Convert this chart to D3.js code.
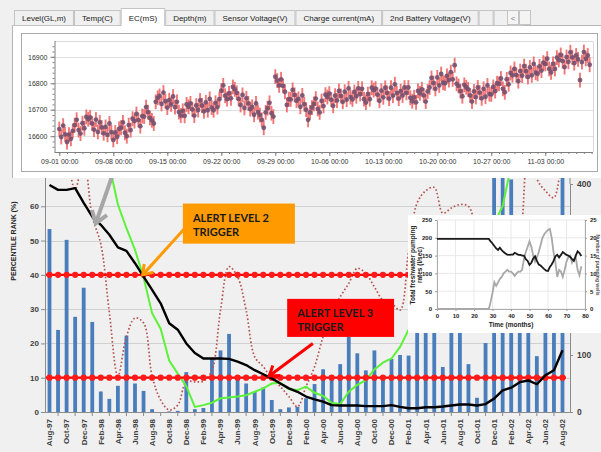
<!DOCTYPE html>
<html>
<head>
<meta charset="utf-8">
<script src="https://cdn.jsdelivr.net/npm/d3@7"></script>
<style>
  body { margin: 0; background: #f0f0f0; }
  svg { display: block; }
</style>
</head>
<body>
<div id="chart"></div>
<script>
// ---------- top panel: logger EC series ----------
var tabNames = ["Level(GL,m)", "Temp(C)", "EC(mS)", "Depth(m)", "Sensor Voltage(V)",
                "Charge current(mA)", "2nd Battery Voltage(V)", "", "", ""];
var activeTab = "EC(mS)";

var ecStart = "2014-09-01 00:00";
var ecStepHours = 6;
var ecError = 28;
var ecTicks = [16600, 16700, 16800, 16900];
var ecValues = [
  // Sep
  16627,16597,16640,16607, 16578,16606,16590,16620, 16642,16662,16623,16610, 16649,16630,16673,16664,
  16671,16648,16625,16663, 16616,16652,16633,16611, 16635,16605,16648,16615, 16586,16614,16598,16628,
  16632,16652,16613,16600, 16642,16623,16666,16657, 16684,16661,16638,16676, 16674,16710,16691,16669,
  16660,16648,16730,16745, 16752,16722,16765,16732, 16708,16736,16720,16750, 16710,16730,16691,16678,
  16696,16677,16720,16711, 16724,16701,16678,16716, 16699,16735,16716,16694, 16728,16698,16741,16708,
  16698,16726,16710,16740, 16772,16792,16753,16740, 16762,16743,16786,16777, 16764,16741,16718,16756,
  16707,16743,16724,16702, 16711,16681,16724,16691, 16680,16662,16632,16690, 16706,16726,16687,16674,
  16825,16810,16792,16815, 16790,16768,16718,16740,
  // Oct
  16739,16775,16756,16734, 16741,16711,16754,16721, 16700,16662,16690,16708, 16722,16742,16703,16690,
  16733,16714,16757,16748, 16761,16738,16715,16753, 16735,16771,16752,16730, 16768,16738,16781,16748,
  16739,16767,16751,16781, 16759,16779,16740,16727, 16759,16740,16783,16774, 16780,16757,16734,16772,
  16747,16783,16764,16742, 16783,16753,16796,16763, 16742,16770,16754,16784, 16764,16784,16745,16732,
  16747,16728,16771,16762, 16777,16754,16731,16769, 16784,16820,16801,16779, 16822,16792,16835,16802,
  16800,16828,16812,16842, 16815,16868,16798,16790, 16770,16751,16794,16785, 16777,16754,16731,16769,
  16748,16784,16765,16743, 16779,16749,16792,16759, 16758,16786,16770,16800, 16798,16818,16779,16766,
  16815,16796,16839,16830, 16854,16831,16808,16846, 16829,16865,16846,16824,
  // Nov
  16860,16830,16873,16840, 16836,16864,16848,16878, 16873,16893,16854,16841, 16873,16854,16897,16888,
  16907,16884,16861,16899, 16881,16917,16898,16876, 16905,16890,16812,16880, 16918,16892,16905,16870
];

// ---------- bottom chart: percentile rank ----------
var months = ["Aug-97","Sep-97","Oct-97","Nov-97","Dec-97","Jan-98","Feb-98","Mar-98","Apr-98","May-98",
  "Jun-98","Jul-98","Aug-98","Sep-98","Oct-98","Nov-98","Dec-98","Jan-99","Feb-99","Mar-99","Apr-99",
  "May-99","Jun-99","Jul-99","Aug-99","Sep-99","Oct-99","Nov-99","Dec-99","Jan-00","Feb-00","Mar-00",
  "Apr-00","May-00","Jun-00","Jul-00","Aug-00","Sep-00","Oct-00","Nov-00","Dec-00","Jan-01","Feb-01",
  "Mar-01","Apr-01","May-01","Jun-01","Jul-01","Aug-01","Sep-01","Oct-01","Nov-01","Dec-01","Jan-02",
  "Feb-02","Mar-02","Apr-02","May-02","Jun-02","Jul-02","Aug-02"];

// bars, right axis
var rainfall = [321,144,302,167,218,158,36,23,46,134,50,37,
                5,0,1,2,70,5,7,94,108,137,59,50,
                35,43,21,5,8,9,24,49,75,62,84,132,
                103,73,108,58,93,100,99,210,190,260,79,240,
                215,84,25,121,430,430,408,230,180,98,200,260,
                430];
// black line, left axis
var percentileRank = [66.2,64.8,64.8,65.3,61,57,54.6,51.7,48,47,43.4,39.5,
                      35.6,31.7,25.9,24,20,17.2,15.6,15.6,15.6,15.5,14.7,13.7,
                      12.2,11,9.8,8.3,6.9,5.9,4.5,3.7,3.0,2.0,1.9,1.9,
                      1.9,1.7,1.7,1.7,2.0,1.5,1.1,1.1,1.4,1.4,1.6,1.9,
                      2.2,2.2,1.9,2.3,3.9,6.3,7.1,8.7,9.2,8.1,10.7,12.2,
                      18];
// green line, left axis
var greenSeries = [null,null,null,null,null,null,null,72,60.5,53.6,47.3,39.3,
                   28.8,24.3,15,11.2,7.5,1.5,2.0,2.7,4.0,4.2,4.5,4.9,
                   5.9,6.9,8.3,8.5,6.6,6.4,7.4,5.6,4.7,2.7,2.3,5.9,
                   7.9,9.3,12.4,14.4,15.6,19,24,28,32,35,38,41,
                   44,47,50,53,55,60,72,85,null,null,null,null,
                   null];
// dotted line, left axis
var dottedSeries = [90,84,75,65,74,57,49,29,10.5,22,27.4,26,
                    10.5,3.5,0.6,2,8.8,8.8,9,12.2,29.7,42.4,39.4,29.7,
                    16.1,13.2,9.8,7.4,4.5,1.5,7.4,13.2,22,28.8,33.6,37.5,
                    41.9,40.4,36.5,32.6,31.7,29.7,47,61,64.5,65.5,58,59.5,
                    60.5,60,52,45,40,40,44,50,78,68,64.5,62.5,
                    80];
var alertLevels = [40, 10];
var leftTicks = [0, 10, 20, 30, 40, 50, 60, 70];
var rightTicks = [0, 100, 200, 300, 400];

// callouts: [month index, value]
var callouts = [
  {lines: ["ALERT LEVEL 2", "TRIGGER"], fill: "#ff9a00", box: [15.6, 60.8, 28.7, 49.1],
   tail: [15.8, 53.5], tip: [10.9, 40], color: "#ff9a00"},
  {lines: ["ALERT LEVEL 3", "TRIGGER"], fill: "#ff0000", box: [27.8, 33, 40.3, 21.9],
   tail: [30.8, 20], tip: [25.7, 10.5], color: "#ff0000"}
];
var grayArrow = {tail: [7.7, 71.5], tip: [5.4, 55]};

// ---------- inset: pumping rates ----------
var insetPumping = [197,197,197,197,197,197,197,197,197,197,
                    197,197,197,197,197,197,197,197,197,197,
                    197,197,197,197,197,197,197,197,197,190,
                    184,177,170,166,172,165,160,156,153,152,
                    153,153,158,155,152,152,150,150,140,135,
                    124,130,142,148,135,125,122,117,112,108,
                    107,118,125,135,148,152,145,152,160,156,
                    152,150,146,140,135,150,162,157,149];
var insetWells = [0,0,0,0,0,0,0,0,0,0,
                  0,0,0,0,0,0,0,0,0,0,
                  0,0,0,0,0,0,0,0,0,2,
                  4.5,7.5,6.5,7.5,8.5,9,10,10.5,11,10.5,
                  10.5,10,9.3,10,10.5,10.5,11,14,16,17.5,
                  19,17.5,15,13.3,14.5,16,18,20,21,21.7,
                  22.2,22.5,20,16,13,9,11,10.5,9,11,
                  13.3,14.5,15,13,14,14.5,11,9.5,12];
var insetXTicks = [0, 10, 20, 30, 40, 50, 60, 70, 80];
var insetLeftTicks = [0, 50, 100, 150, 200, 250];
var insetRightTicks = [0, 5, 10, 15, 20, 25];

// =====================================================
var W = 601, H = 452;
var svg = d3.select("#chart").append("svg")
    .attr("width", W).attr("height", H)
    .style("font-family", "'Liberation Sans', Arial, sans-serif");
svg.append("rect").attr("width", W).attr("height", H).attr("fill", "#f0f0f0");
var defs = svg.append("defs");

function drawArrow(g, x1, y1, x2, y2, color, w, head) {
  var ang = Math.atan2(y2 - y1, x2 - x1);
  g.append("line")
    .attr("x1", x1).attr("y1", y1)
    .attr("x2", x2 - Math.cos(ang) * 2).attr("y2", y2 - Math.sin(ang) * 2)
    .attr("stroke", color).attr("stroke-width", w);
  var a1 = ang + Math.PI - 0.6, a2 = ang + Math.PI + 0.6;
  g.append("path")
    .attr("d", "M" + (x2 + head * Math.cos(a1)) + "," + (y2 + head * Math.sin(a1)) +
               "L" + x2 + "," + y2 +
               "L" + (x2 + head * Math.cos(a2)) + "," + (y2 + head * Math.sin(a2)))
    .attr("fill", "none").attr("stroke", color).attr("stroke-width", w)
    .attr("stroke-linejoin", "miter").attr("stroke-linecap", "butt");
}

// ===== bottom chart =====
var plot = {left: 45, right: 570, top: 172, bottom: 412};
var x = d3.scalePoint().domain(months).range([49.5, 562.5]);
var xi = d3.scaleLinear().domain([0, months.length - 1]).range([49.5, 562.5]);
var yL = d3.scaleLinear().domain([0, 70]).range([plot.bottom, plot.top]);
var yR = d3.scaleLinear().domain([0, 400]).range([plot.bottom, 184]);

defs.append("clipPath").attr("id", "plotClip").append("rect")
    .attr("x", plot.left).attr("y", plot.top)
    .attr("width", plot.right - plot.left).attr("height", plot.bottom - plot.top);

var bottom = svg.append("g");

// gridlines
bottom.selectAll(".grid").data(leftTicks).enter().append("line")
    .attr("x1", plot.left).attr("x2", plot.right)
    .attr("y1", function(d) { return Math.round(yL(d)) + 0.5; })
    .attr("y2", function(d) { return Math.round(yL(d)) + 0.5; })
    .attr("stroke", "#d0d0d0");

var inner = bottom.append("g").attr("clip-path", "url(#plotClip)");

// bars
inner.selectAll(".bar").data(rainfall).enter().append("rect")
    .attr("x", function(d, i) { return x(months[i]) - 1.9; })
    .attr("width", 3.8)
    .attr("y", function(d) { return yR(d); })
    .attr("height", function(d) { return yR(0) - yR(d); })
    .attr("fill", "#4a7dbb");

var monthLine = d3.line()
    .defined(function(d) { return d != null; })
    .x(function(d, i) { return x(months[i]); })
    .y(function(d) { return yL(d); });

// dotted smoothed line
inner.append("path")
    .datum(dottedSeries)
    .attr("d", monthLine.curve(d3.curveCatmullRom.alpha(0.5)))
    .attr("fill", "none").attr("stroke", "#b5524f")
    .attr("stroke-width", 1.7).attr("stroke-dasharray", "1.6,2.2");
monthLine.curve(d3.curveLinear);

// green line
inner.append("path")
    .datum(greenSeries)
    .attr("d", monthLine)
    .attr("fill", "none").attr("stroke", "#5cf23a").attr("stroke-width", 2);

// alert levels
alertLevels.forEach(function(level) {
  inner.append("line")
      .attr("x1", plot.left).attr("x2", 566)
      .attr("y1", yL(level)).attr("y2", yL(level))
      .attr("stroke", "#ff0000").attr("stroke-width", 2.2);
  inner.selectAll(".dot" + level).data(months).enter().append("circle")
      .attr("cx", function(d) { return x(d); })
      .attr("cy", yL(level))
      .attr("r", 3.1)
      .attr("fill", "#ff1a1a");
});

// black line
inner.append("path")
    .datum(percentileRank)
    .attr("d", monthLine)
    .attr("fill", "none").attr("stroke", "#000").attr("stroke-width", 2.4)
    .attr("stroke-linejoin", "round");

// left axis
var leftAxis = bottom.append("g")
    .attr("transform", "translate(" + plot.left + ",0)")
    .call(d3.axisLeft(yL).tickValues(leftTicks).tickSize(4).tickSizeOuter(0));
leftAxis.select(".domain").attr("stroke", "#8c8c8c");
leftAxis.selectAll(".tick line").attr("stroke", "#8c8c8c");
leftAxis.selectAll("text").attr("x", -6).style("font-size", "8px")
    .style("font-weight", "bold").attr("fill", "#404040");

// right axis
var rightAxis = bottom.append("g")
    .attr("transform", "translate(" + plot.right + ",0)")
    .call(d3.axisRight(yR).tickValues(rightTicks).tickSize(3).tickSizeOuter(0));
rightAxis.select(".domain").attr("stroke", "#8c8c8c");
rightAxis.selectAll(".tick line").attr("stroke", "#8c8c8c");
rightAxis.selectAll("text").attr("x", 7).style("font-size", "8.5px")
    .style("font-weight", "bold").attr("fill", "#404040");
bottom.append("line").attr("x1", plot.right).attr("x2", plot.right)
    .attr("y1", plot.top).attr("y2", 184).attr("stroke", "#8c8c8c");

// bottom axis
bottom.append("line")
    .attr("x1", plot.left).attr("x2", plot.right)
    .attr("y1", plot.bottom + 0.5).attr("y2", plot.bottom + 0.5)
    .attr("stroke", "#8c8c8c");
bottom.selectAll(".xtick").data(months.filter(function(d, i) { return i % 2 == 1; }))
    .enter().append("line")
    .attr("x1", function(d) { return x(d); }).attr("x2", function(d) { return x(d); })
    .attr("y1", plot.bottom).attr("y2", plot.bottom + 4)
    .attr("stroke", "#8c8c8c");
bottom.selectAll(".xlab").data(months.filter(function(d, i) { return i % 2 == 0; }))
    .enter().append("text")
    .attr("transform", function(d) { return "translate(" + x(d) + ",419) rotate(-90)"; })
    .attr("dy", "0.35em")
    .attr("text-anchor", "end")
    .style("font-size", "8px").style("font-weight", "bold")
    .attr("fill", "#404040")
    .text(function(d) { return d; });

// y title
bottom.append("text")
    .attr("transform", "translate(16,241) rotate(-90)")
    .attr("text-anchor", "middle")
    .style("font-size", "7px").style("font-weight", "bold")
    .attr("fill", "#222")
    .text("PERCENTILE RANK (%)");

// annotations
var notes = svg.append("g");
drawArrow(notes, xi(grayArrow.tail[0]), yL(grayArrow.tail[1]),
          xi(grayArrow.tip[0]), yL(grayArrow.tip[1]), "#a6a6a6", 4, 14);
callouts.forEach(function(c) {
  drawArrow(notes, xi(c.tail[0]), yL(c.tail[1]), xi(c.tip[0]), yL(c.tip[1]), c.color, 3, 11);
  var bx = xi(c.box[0]), by = yL(c.box[1]);
  notes.append("rect")
      .attr("x", bx).attr("y", by)
      .attr("width", xi(c.box[2]) - bx).attr("height", yL(c.box[3]) - by)
      .attr("fill", c.fill);
  notes.selectAll(null).data(c.lines).enter().append("text")
      .attr("x", bx + 10)
      .attr("y", function(d, i) { return by + 18 + i * 14; })
      .style("font-family", "Lato, 'Liberation Sans', sans-serif")
      .style("font-size", "11px").style("font-weight", "bold")
      .attr("fill", "#1a1a1a")
      .text(function(d) { return d; });
});

// ===== inset =====
var ins = {left: 408, top: 215, right: 601, bottom: 333};
var ix = d3.scaleLinear().domain([0, 80]).range([437, 585]);
var iyL = d3.scaleLinear().domain([0, 250]).range([309, 220]);
var iyR = d3.scaleLinear().domain([0, 25]).range([309, 220]);
var inset = svg.append("g").style("font-family", "Arial, 'Liberation Sans', sans-serif");
inset.append("rect")
    .attr("x", ins.left).attr("y", ins.top)
    .attr("width", ins.right - ins.left).attr("height", ins.bottom - ins.top)
    .attr("fill", "#fff");
inset.selectAll(".vg").data(insetXTicks).enter().append("line")
    .attr("x1", function(d) { return ix(d); }).attr("x2", function(d) { return ix(d); })
    .attr("y1", iyL(250)).attr("y2", iyL(0))
    .attr("stroke", "#e3e3e3").attr("stroke-width", 0.8);
inset.selectAll(".hg").data(insetLeftTicks).enter().append("line")
    .attr("x1", ix(0)).attr("x2", ix(80))
    .attr("y1", function(d) { return iyL(d); }).attr("y2", function(d) { return iyL(d); })
    .attr("stroke", "#e3e3e3").attr("stroke-width", 0.8);

var ia = inset.append("g").attr("transform", "translate(0," + iyL(0) + ")")
    .call(d3.axisBottom(ix).tickValues(insetXTicks).tickSize(2).tickSizeOuter(0));
var ib = inset.append("g").attr("transform", "translate(" + ix(0) + ",0)")
    .call(d3.axisLeft(iyL).tickValues(insetLeftTicks).tickSize(2).tickSizeOuter(0));
var ic = inset.append("g").attr("transform", "translate(" + ix(80) + ",0)")
    .call(d3.axisRight(iyR).tickValues(insetRightTicks).tickSize(2).tickSizeOuter(0));
[ia, ib, ic].forEach(function(a) {
  a.select(".domain").attr("stroke", "#9a9a9a").attr("stroke-width", 0.8);
  a.selectAll(".tick line").attr("stroke", "#9a9a9a");
  a.selectAll("text").style("font-size", "6px").style("font-weight", "bold").attr("fill", "#222");
});
ia.selectAll("text").attr("y", 5);

var insetLine = d3.line().x(function(d, i) { return ix(i); });
inset.append("path")
    .datum(insetWells)
    .attr("d", insetLine.y(function(d) { return iyR(d); }))
    .attr("fill", "none").attr("stroke", "#a8a8a8").attr("stroke-width", 1.8);
inset.append("path")
    .datum(insetPumping)
    .attr("d", insetLine.y(function(d) { return iyL(d); }))
    .attr("fill", "none").attr("stroke", "#1a1a1a").attr("stroke-width", 1.8);

inset.append("text")
    .attr("x", (ix(0) + ix(80)) / 2).attr("y", 327)
    .attr("text-anchor", "middle")
    .style("font-size", "6.5px").style("font-weight", "bold").attr("fill", "#222")
    .text("Time (months)");
inset.selectAll(".ltitle").data(["Total freshwater pumping", "rates (l/sec)"]).enter().append("text")
    .attr("transform", function(d, i) { return "translate(" + (415 + i * 7) + ",265) rotate(-90)"; })
    .attr("text-anchor", "middle")
    .style("font-size", "6.5px").style("font-weight", "bold").attr("fill", "#222")
    .text(function(d) { return d; });
inset.append("text")
    .attr("transform", "translate(596,265) rotate(90)")
    .attr("text-anchor", "middle")
    .style("font-size", "5px").style("font-weight", "bold").attr("fill", "#555")
    .text("Number of pumping wells");

// ===== top panel =====
var topP = svg.append("g");
topP.append("rect").attr("x", 12).attr("y", 25).attr("width", W - 12).attr("height", 153)
    .attr("fill", "#fff");
topP.append("path").attr("d", "M12.5,178V25.5H" + W)
    .attr("fill", "none").attr("stroke", "#b4b4b4");

// tabs
var tabX = 14;
tabNames.forEach(function(name) {
  var active = name == activeTab;
  var t = topP.append("g");
  var txt = t.append("text").attr("y", 20.5)
      .style("font-size", "8px").attr("fill", "#222").text(name);
  var w = name ? txt.node().getComputedTextLength() + 16 : 15;
  txt.attr("x", tabX + w / 2).attr("text-anchor", "middle");
  t.insert("rect", "text")
      .attr("x", tabX + 0.5).attr("y", active ? 8.5 : 10.5)
      .attr("width", w - 1).attr("height", active ? 17 : 15)
      .attr("fill", active ? "#fff" : "#f0f0f0")
      .attr("stroke", "#c4c4c4");
  if (active) {
    t.append("rect").attr("x", tabX + 1).attr("y", 24).attr("width", w - 2).attr("height", 3).attr("fill", "#fff");
  }
  tabX += w;
});
topP.append("rect").attr("x", 507.5).attr("y", 10.5).attr("width", 11).attr("height", 14)
    .attr("fill", "#f4f4f4").attr("stroke", "#c4c4c4");
topP.append("text").attr("x", 513).attr("y", 20.5).attr("text-anchor", "middle")
    .style("font-size", "8px").attr("fill", "#777").text("<");
topP.append("rect").attr("x", 519.5).attr("y", 10.5).attr("width", 11).attr("height", 14)
    .attr("fill", "#f4f4f4").attr("stroke", "#c4c4c4");

// chart frame
topP.append("rect").attr("x", 21.5).attr("y", 33.5).attr("width", 576).attr("height", 138)
    .attr("fill", "#fff").attr("stroke", "#a9a9a9");

var parseT = d3.utcParse("%Y-%m-%d %H:%M");
var t0 = parseT(ecStart);
var ecData = ecValues.map(function(v, i) {
  return {date: d3.utcHour.offset(t0, i * ecStepHours), value: v};
});
var tx = d3.scaleUtc().domain([t0, d3.utcDay.offset(t0, 63)]).range([59.3, 545.3]);
var ty = d3.scaleLinear().domain([16600, 16900]).range([136.2, 56.8]);
var tp = {left: 54.5, right: 593, top: 41, bottom: 152};

topP.selectAll(".tgrid").data(ecTicks).enter().append("line")
    .attr("x1", tp.left).attr("x2", tp.right)
    .attr("y1", function(d) { return Math.round(ty(d)) + 0.5; })
    .attr("y2", function(d) { return Math.round(ty(d)) + 0.5; })
    .attr("stroke", "#e0e0e0");
topP.append("path")
    .attr("d", "M" + tp.left + "," + (tp.top + 0.5) + "H" + (tp.right + 0.5) + "V" + tp.bottom)
    .attr("fill", "none").attr("stroke", "#dadada");

// error bars and points
topP.selectAll(".err").data(ecData).enter().append("line")
    .attr("x1", function(d) { return tx(d.date); }).attr("x2", function(d) { return tx(d.date); })
    .attr("y1", function(d) { return ty(d.value - ecError); })
    .attr("y2", function(d) { return ty(d.value + ecError); })
    .attr("stroke", "#ef5e5e").attr("stroke-width", 1.9).attr("stroke-opacity", 0.85);
topP.selectAll(".pt").data(ecData).enter().append("circle")
    .attr("cx", function(d) { return tx(d.date); })
    .attr("cy", function(d) { return ty(d.value); })
    .attr("r", 2.4)
    .attr("fill", "#74506e").attr("fill-opacity", 0.9);

// axes
var dayTicks = d3.utcDay.range(d3.utcDay.ceil(tx.invert(tp.left)), tx.invert(tp.right));
var weekTicks = dayTicks.filter(function(d) { return Math.round((d - t0) / 864e5) % 7 == 0; });
var txAxis = topP.append("g").attr("transform", "translate(0," + tp.bottom + ")")
    .call(d3.axisBottom(tx).tickValues(weekTicks).tickSize(4).tickSizeOuter(0)
          .tickFormat(d3.utcFormat("%m-%d %H:%M")));
topP.append("g").attr("transform", "translate(0," + tp.bottom + ")")
    .call(d3.axisBottom(tx).tickValues(dayTicks).tickSize(2).tickSizeOuter(0).tickFormat(""))
    .select(".domain").remove();
var tyAxis = topP.append("g").attr("transform", "translate(" + tp.left + ",0)")
    .call(d3.axisLeft(ty).tickValues(ecTicks).tickSize(4).tickSizeOuter(0).tickFormat(d3.format("d")));
topP.append("g").attr("transform", "translate(" + tp.left + ",0)")
    .call(d3.axisLeft(ty).tickValues(d3.range(16560, 16960, 20)).tickSize(2).tickSizeOuter(0).tickFormat(""))
    .select(".domain").remove();
txAxis.select(".domain").attr("d", "M" + tp.left + ",0.5H" + tp.right);
tyAxis.select(".domain").attr("d", "M0.5," + tp.bottom + "V" + tp.top);
topP.selectAll(".domain").attr("stroke", "#808080");
topP.selectAll(".tick line").attr("stroke", "#808080");
txAxis.selectAll("text").attr("y", 7).style("font-size", "7px").attr("fill", "#333");
tyAxis.selectAll("text").attr("x", -7).style("font-size", "7px").attr("fill", "#333");
</script>
</body>
</html>
